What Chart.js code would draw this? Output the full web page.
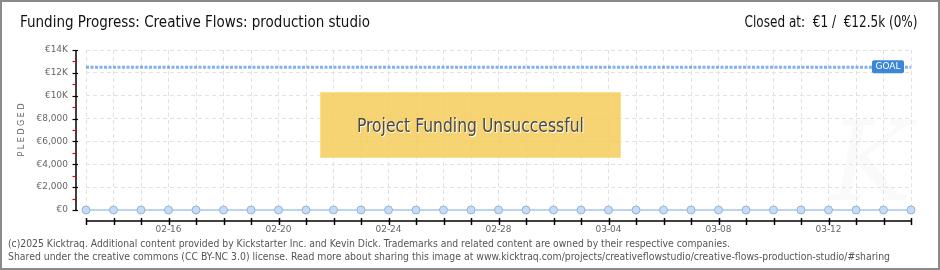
<!DOCTYPE html>
<html>
<head>
<meta charset="utf-8">
<script src="https://cdn.jsdelivr.net/npm/chart.js@4"></script>
<style>
  html,body{margin:0;padding:0;background:#fff;}
  #wrap{position:relative;width:940px;height:270px;overflow:hidden;background:#fff;}
  #frame{position:absolute;left:0;top:0;width:936px;height:266px;border:2px solid #8a8a8a;pointer-events:none;}
  canvas{position:absolute;left:0;top:0;}
  .t{position:absolute;white-space:nowrap;font-family:"Liberation Sans Narrow","DejaVu Sans Condensed",sans-serif;color:#111;font-size:15px;}
  #title{left:20px;top:13px;transform-origin:left center;}
  #closed{right:22px;top:13px;transform-origin:right center;}
  .foot{position:absolute;left:8px;white-space:nowrap;font-family:"DejaVu Sans Condensed","DejaVu Sans",sans-serif;font-size:10px;color:#555;transform-origin:left center;}
  #f1{top:238px;}
  #f2{top:251px;}
  #fail{position:absolute;left:320px;top:92px;width:299px;height:64px;background:rgba(246,205,90,0.85);border:1px solid #f9e08e;
        display:flex;align-items:center;justify-content:center;}
  #failtxt{font-family:"Liberation Sans Narrow","DejaVu Sans Condensed",sans-serif;font-size:19px;color:#4a4a4a;text-shadow:1px 1px 0 #fff;white-space:nowrap;display:inline-block;}
</style>
</head>
<body>
<div id="wrap">
  <canvas id="c" width="940" height="270"></canvas>
  <div id="fail"><span id="failtxt">Project Funding Unsuccessful</span></div>
  <div class="t" id="title">Funding Progress: Creative Flows: production studio</div>
  <div class="t" id="closed">Closed at:&nbsp; €1 /&nbsp; €12.5k (0%)</div>
  <div class="foot" id="f1">(c)2025 Kicktraq. Additional content provided by Kickstarter Inc. and Kevin Dick. Trademarks and related content are owned by their respective companies.</div>
  <div class="foot" id="f2">Shared under the creative commons (CC BY-NC 3.0) license. Read more about sharing this image at www.kicktraq.com/projects/creativeflowstudio/creative-flows-production-studio/#sharing</div>
  <div id="frame"></div>
</div>
<script>
const dates = ['02-13','02-14','02-15','02-16','02-17','02-18','02-19','02-20','02-21','02-22','02-23','02-24','02-25','02-26','02-27','02-28',
               '03-01','03-02','03-03','03-04','03-05','03-06','03-07','03-08','03-09','03-10','03-11','03-12','03-13','03-14','03-15'];
const shownDates = ['02-16','02-20','02-24','02-28','03-04','03-08','03-12'];
const pledged = [0,0,0,0,0,0,0,0,0,0,0,0,0,0,0,0,0,0,0,0,0,0,0,0,0,0,0,0,0,0,1];
const goalValue = 12500;
const goalLine = [12500,12500,12500,12500,12500,12500,12500,12500,12500,12500,12500,12500,12500,12500,12500,12500,
                  12500,12500,12500,12500,12500,12500,12500,12500,12500,12500,12500,12500,12500,12500,12500];
const yTickValues = [0,2000,4000,6000,8000,10000,12000,14000];
const yTickLabels = ['€0','€2,000','€4,000','€6,000','€8,000','€10K','€12K','€14K'];

// fit text widths to the reference
function fitWidth(id, target){
  const el = document.getElementById(id);
  const w = el.getBoundingClientRect().width;
  if (w > 0) el.style.transform = 'scaleX(' + (target / w) + ')';
}
fitWidth('title', 350);
fitWidth('closed', 173);
fitWidth('f1', 722);
fitWidth('f2', 882);
fitWidth('failtxt', 227);

const tickFont = {family:'"DejaVu Sans", sans-serif', size:9};

const axesPlugin = {
  id:'axes',
  beforeDraw(chart){
    const ctx = chart.ctx;
    ctx.save();
    ctx.font = 'italic 110px "DejaVu Serif", serif';
    ctx.fillStyle = 'rgba(0,0,0,0.018)';
    ctx.fillText('K', 830, 200);
    ctx.restore();
  },
  afterDraw(chart){
    const ctx = chart.ctx, x = chart.scales.x, y = chart.scales.y;
    ctx.save();
    // y axis
    const ax = x.left - 10;
    ctx.strokeStyle = '#000'; ctx.lineWidth = 1.5;
    ctx.beginPath(); ctx.moveTo(ax, y.getPixelForValue(14000)); ctx.lineTo(ax, y.getPixelForValue(0)); ctx.stroke();
    for (let v = 0; v <= 14000; v += 1000) {
      const py = Math.round(y.getPixelForValue(v)) + 0.5;
      const major = v % 2000 === 0;
      ctx.strokeStyle = major ? '#000' : '#e00';
      ctx.lineWidth = 1.2;
      ctx.beginPath(); ctx.moveTo(ax - 3.5, py); ctx.lineTo(major ? ax + 2 : ax, py); ctx.stroke();
    }
    // x axis
    const ay = y.bottom + 11;
    ctx.strokeStyle = '#000'; ctx.lineWidth = 1.5;
    ctx.beginPath(); ctx.moveTo(x.left, ay); ctx.lineTo(x.right, ay); ctx.stroke();
    for (let i = 0; i < dates.length; i++) {
      const px = Math.round(x.getPixelForValue(i)) + 0.5;
      ctx.beginPath(); ctx.moveTo(px, ay - 3); ctx.lineTo(px, ay + 4); ctx.stroke();
    }
    // goal label
    const gy = y.getPixelForValue(goalValue);
    const bx = x.right - 39, bw = 32, bh = 13;
    ctx.fillStyle = '#3b86d6';
    ctx.beginPath();
    if (ctx.roundRect) ctx.roundRect(bx, gy - 7, bw, bh, 2); else ctx.rect(bx, gy - 7, bw, bh);
    ctx.fill();
    ctx.fillStyle = '#fff';
    ctx.font = '9px "DejaVu Sans", sans-serif';
    ctx.textAlign = 'center'; ctx.textBaseline = 'middle';
    ctx.fillText('GOAL', bx + bw/2, gy);
    ctx.restore();
  }
};

new Chart(document.getElementById('c'), {
  type:'line',
  data:{
    labels: dates,
    datasets:[
      {label:'Goal', data: goalLine, borderColor:'rgba(74,144,226,0.7)', borderWidth:3, borderDash:[3,1.5],
       pointRadius:0, fill:false, order:2, clip:false},
      {label:'Pledged', data: pledged, borderColor:'rgba(180,210,240,0.9)', borderWidth:2,
       pointRadius:4, pointBackgroundColor:'#c4dcf6', pointBorderColor:'#98b4d4', pointBorderWidth:1, fill:false, order:1, clip:false}
    ]
  },
  options:{
    responsive:false, animation:false, devicePixelRatio:1,
    layout:{padding:{left:0, right:29, top:50, bottom:0}},
    plugins:{legend:{display:false}, tooltip:{enabled:false}, title:{display:false}},
    scales:{
      x:{
        offset:false,
        border:{display:false, dash:[4,3]},
        grid:{color:'#e2e2e2', drawTicks:false, tickLength:0},
        ticks:{autoSkip:false, maxRotation:0, padding:14, color:'#666', font:tickFont,
               callback:(v,i)=> shownDates.includes(dates[i]) ? dates[i] : ''},
        afterFit(s){ s.height = 60; }
      },
      y:{
        min:0, max:14000,
        border:{display:false, dash:[4,3]},
        grid:{color:'#e2e2e2', drawTicks:false, tickLength:0},
        afterBuildTicks(s){ s.ticks = yTickValues.map(v=>({value:v})); },
        ticks:{padding:18, color:'#666', font:tickFont,
               callback:(v)=> yTickLabels[yTickValues.indexOf(v)]},
        title:{display:true, text:'P L E D G E D', color:'#666', font:{family:'"DejaVu Sans", sans-serif', size:8}, padding:{top:17,bottom:0}},
        afterFit(s){ s.width = 86; }
      }
    }
  },
  plugins:[axesPlugin]
});
</script>
</body>
</html>
